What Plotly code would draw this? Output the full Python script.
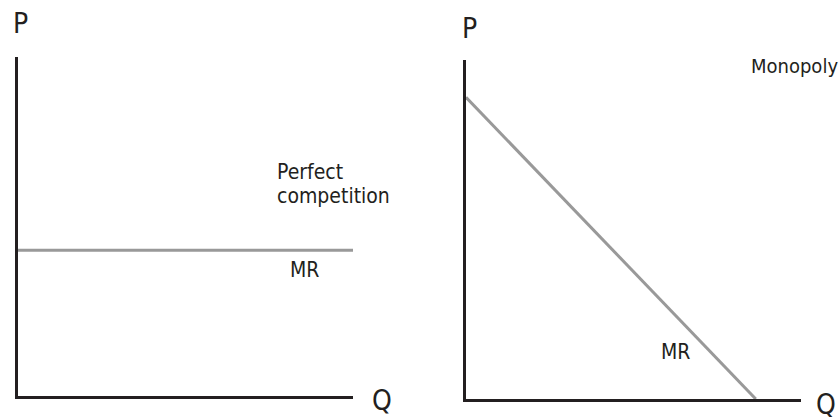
import plotly.graph_objects as go

# ---- data ----
pc_q = [0, 10]
pc_mr = [4.3, 4.3]
mono_q = [0, 8.65]
mono_mr = [8.9, 0]
pc_title_lines = ["Perfect", "competition"]
mono_title = "Monopoly"
axis_labels = ["P", "Q"]
curve_label = "MR"

AX = "#231f20"
GRAY = "#999999"
FONT = "DejaVu Sans Condensed, Roboto, sans-serif"

fig = go.Figure()
fig.add_trace(go.Scatter(x=pc_q, y=pc_mr, mode="lines", line=dict(color=GRAY, width=3),
                         xaxis="x", yaxis="y", hoverinfo="skip", showlegend=False))
fig.add_trace(go.Scatter(x=mono_q, y=mono_mr, mode="lines", line=dict(color=GRAY, width=3),
                         xaxis="x2", yaxis="y2", hoverinfo="skip", showlegend=False))

W, H = 840, 417
def xd(a, b):
    return [a / W, b / W]
def yd(bottom, top):
    return [1 - bottom / H, 1 - top / H]

common = dict(range=[0, 10], showgrid=False, zeroline=False, showticklabels=False,
              ticks="", showline=True, linecolor=AX, linewidth=3, fixedrange=True)

fig.update_layout(
    width=W, height=H,
    margin=dict(l=0, r=0, t=0, b=0),
    paper_bgcolor="white", plot_bgcolor="white",
    xaxis=dict(domain=xd(18, 353), anchor="y", **common),
    yaxis=dict(domain=yd(396, 57), anchor="x", **common),
    xaxis2=dict(domain=xd(466, 801), anchor="y2", **common),
    yaxis2=dict(domain=yd(399, 60), anchor="x2", **common),
    font=dict(family=FONT, color=AX),
)

def ann(text, x, y, xanchor="left", yanchor="middle", size=20):
    fig.add_annotation(text=text, x=x / W, y=1 - y / H, xref="paper", yref="paper",
                       xanchor=xanchor, yanchor=yanchor, showarrow=False,
                       font=dict(size=size, family=FONT, color=AX), align="left")

ann(axis_labels[0], 11, 24, size=28)
ann(axis_labels[1], 370, 400, size=28)
ann(axis_labels[0], 460, 28, size=28)
ann(axis_labels[1], 814, 404, size=28)
ann(pc_title_lines[0], 275, 172, size=21)
ann(pc_title_lines[1], 275, 196, size=21)
ann(mono_title, 840, 66, xanchor="right", size=20)
ann(curve_label, 288, 270, size=21)
ann(curve_label, 659, 352, size=21)

fig.write_html("out.html", post_script="document.body.style.margin='0';",
               config={"displayModeBar": False})
